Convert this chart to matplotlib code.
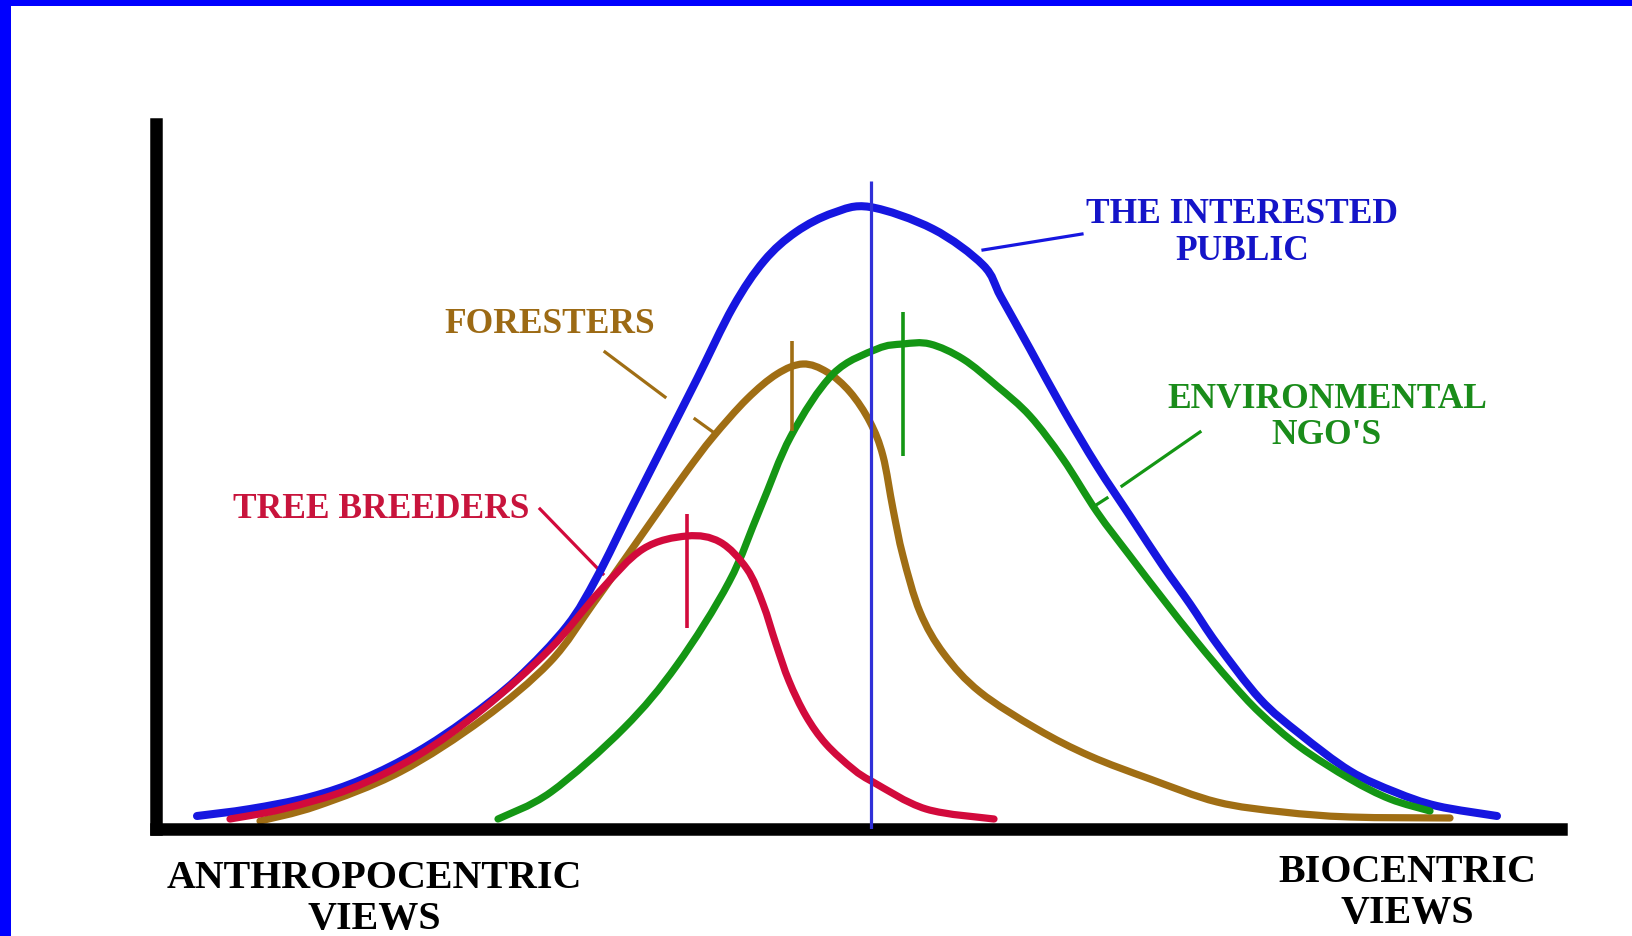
import matplotlib
matplotlib.use("Agg")
import numpy as np
import matplotlib.pyplot as plt
from matplotlib.patches import Rectangle, PathPatch
from matplotlib.path import Path

# positions along the anthropocentric -> biocentric axis, and heights
public_x = [41, 94, 154, 207, 261, 311, 361, 411, 441, 475, 508, 541, 577, 608, 640, 677, 714,
            777, 827, 845, 874, 907, 941, 974, 1007, 1034, 1061, 1104, 1144, 1194, 1239, 1281, 1341]
public_y = [13, 20, 32, 50, 77, 110, 150, 203, 252, 320, 385, 450, 522, 568, 597, 616, 622,
            600, 564, 532, 480, 420, 363, 313, 263, 225, 185, 130, 95, 58, 37, 23, 13]

ngo_x = [342, 395, 468, 521, 573, 604, 635, 677, 721, 747, 774, 807, 841, 874,
         907, 941, 974, 1007, 1041, 1074, 1104, 1144, 1194, 1234, 1274]
ngo_y = [10, 37, 101, 164, 247, 320, 393, 455, 480, 485, 485, 470, 443, 413,
         370, 317, 273, 230, 187, 148, 116, 82, 50, 30, 18]

forester_x = [104, 161, 244, 327, 394, 437, 471, 504, 531, 557, 591, 621, 647, 671, 694, 714,
              727, 737, 747, 764, 788, 824, 881, 934, 994, 1061, 1127, 1194, 1294]
forester_y = [8, 23, 57, 110, 167, 225, 273, 320, 358, 392, 430, 455, 465, 457, 437, 407,
              373, 320, 273, 217, 175, 137, 100, 73, 50, 27, 17, 12, 11]

breeder_x = [74, 127, 194, 261, 327, 394, 444, 487, 531, 564, 591, 607, 620, 633, 650, 670,
             697, 717, 770, 838]
breeder_y = [10, 20, 40, 73, 120, 180, 238, 280, 293, 287, 260, 225, 185, 148, 113, 85,
             60, 47, 20, 10]

# group means (short vertical marks) and the public's mean line
forester_mean, forester_span = 636, (398, 488)
ngo_mean, ngo_span = 747, (373, 517)
breeder_mean, breeder_span = 531, (201, 315)
public_mean, public_top = 715, 648

BLUE = "#1616e0"
GREEN = "#149614"
BROWN = "#a06e14"
RED = "#d20a3c"


def smooth_curve(ax, x, y, color, lw, z):
    # curve through the read points, drawn as bezier segments (catmull-rom)
    pts = np.column_stack([x, y]).astype(float)
    n = len(pts)
    verts = [pts[0]]
    codes = [Path.MOVETO]
    for i in range(n - 1):
        p0 = pts[max(i - 1, 0)]
        p1 = pts[i]
        p2 = pts[i + 1]
        p3 = pts[min(i + 2, n - 1)]
        verts += [p1 + (p2 - p0) / 6, p2 - (p3 - p1) / 6, p2]
        codes += [Path.CURVE4] * 3
    ax.add_patch(PathPatch(Path(verts, codes), fill=False, edgecolor=color, lw=lw,
                           capstyle="round", joinstyle="round", zorder=z))


fig = plt.figure(figsize=(16.32, 9.37), dpi=100)
fig.patch.set_facecolor("white")
W, H = 1632, 937
ax = fig.add_axes([156 / W, (H - 830) / H, (1561 - 156) / W, (830 - 125) / H])
ax.set_xlim(0, 1405)
ax.set_ylim(0, 705)
ax.set_xticks([])
ax.set_yticks([])
for s in ["top", "right"]:
    ax.spines[s].set_visible(False)
for s in ["left", "bottom"]:
    ax.spines[s].set_linewidth(9)
    ax.spines[s].set_color("black")
    ax.spines[s].set_capstyle("projecting")

smooth_curve(ax, forester_x, forester_y, BROWN, 5.2, 2)
smooth_curve(ax, public_x, public_y, BLUE, 5.8, 3)
smooth_curve(ax, ngo_x, ngo_y, GREEN, 5.2, 4)
smooth_curve(ax, breeder_x, breeder_y, RED, 5.2, 5)

ax.vlines(public_mean, 0, public_top, color="#3030d8", lw=2.3, zorder=6)
ax.vlines(forester_mean, *forester_span, color=BROWN, lw=2.6, zorder=6)
ax.vlines(ngo_mean, *ngo_span, color=GREEN, lw=2.6, zorder=6)
ax.vlines(breeder_mean, *breeder_span, color=RED, lw=2.6, zorder=6)

# leader lines from the labels
ax.plot([827, 926], [579, 595], color=BLUE, lw=2.3, zorder=1)
ax.plot([966, 1044], [343, 397], color=GREEN, lw=2.3, zorder=1)
ax.plot([937, 951], [322, 331], color=GREEN, lw=2.3, zorder=1)
ax.plot([449, 509], [477, 432], color=BROWN, lw=2.3, zorder=1)
ax.plot([539, 557], [410, 397], color=BROWN, lw=2.3, zorder=1)
ax.plot([384, 447], [320, 255], color=RED, lw=2.3, zorder=1)

tf = dict(family="Liberation Serif", weight="bold", ha="center", va="baseline",
          fontsize=25.5, clip_on=False)
ax.text(1086, 607, "THE INTERESTED", color="#1414c8", **tf)
ax.text(1086, 570, "PUBLIC", color="#1414c8", **tf)
ax.text(394, 497, "FORESTERS", color="#9c6a14", **tf)
ax.text(225, 312, "TREE BREEDERS", color="#c8143c", **tf)
ax.text(1171, 422, "ENVIRONMENTAL", color="#1a8c1a", **tf)
ax.text(1170, 386, "NGO'S", color="#1a8c1a", **tf)

bf = dict(tf, fontsize=28.8, color="black")
ax.text(218, -58, "ANTHROPOCENTRIC", **bf)
ax.text(218, -99, "VIEWS", **bf)
ax.text(1251, -52, "BIOCENTRIC", **bf)
ax.text(1251, -93, "VIEWS", **bf)

# blue frame along top and left
fig.add_artist(Rectangle((0, 1 - 7 / H), 1, 7 / H, transform=fig.transFigure,
                         color="#0000ff", lw=0))
fig.add_artist(Rectangle((0, 0), 11 / W, 1, transform=fig.transFigure,
                         color="#0000ff", lw=0))

fig.savefig("out.png", dpi=100, facecolor="white")
